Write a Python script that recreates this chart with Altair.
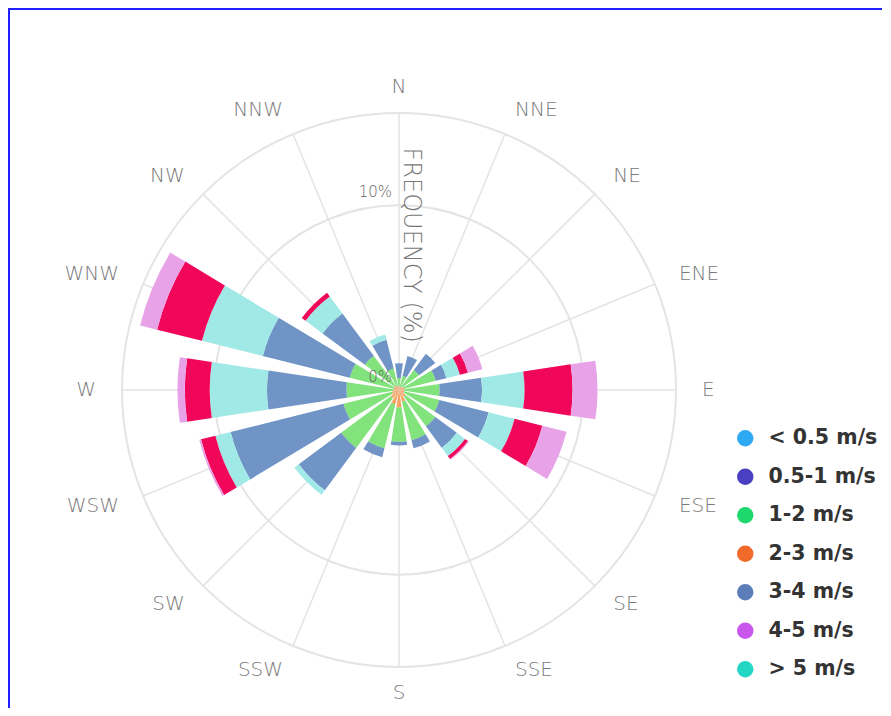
import altair as alt
import pandas as pd

directions = ["N", "NNE", "NE", "ENE", "E", "ESE", "SE", "SSE",
              "S", "SSW", "SW", "WSW", "W", "WNW", "NW", "NNW"]
angles = [0, 22.5, 45, 67.5, 90, 112.5, 135, 157.5,
          180, 202.5, 225, 247.5, 270, 292.5, 315, 337.5]
label_align = ["center", "left", "left", "left", "left", "left", "left", "left",
               "center", "right", "right", "right", "right", "right", "right", "right"]

# frequency (%) of each band per direction, stacked from the centre outwards
band_2_3 = [0.2, 0.2, 0.2, 0.3, 0.3, 0.3, 0.45, 0.65, 0.95, 0.8, 0.55, 0.4, 0.3, 0.3, 0.3, 0.2]
band_1_2 = [0.45, 0.6, 1.15, 1.75, 1.9, 1.95, 2.0, 2.15, 1.85, 2.45, 3.35, 2.7, 2.55, 2.45, 2.0, 1.0]
band_3_4 = [0.8, 1.1, 1.1, 0.6, 2.3, 2.75, 1.45, 0.45, 0.2, 0.5, 2.85, 6.3, 4.3, 4.85, 2.85, 1.6]
band_gt5 = [0, 0, 0, 0.75, 2.3, 1.45, 0.55, 0, 0, 0, 0.3, 0.85, 3.1, 3.4, 1.15, 0.3]
band_extra = [0, 0, 0, 0.45, 2.6, 1.55, 0.2, 0, 0, 0, 0, 0.8, 1.35, 2.5, 0.25, 0]
band_4_5 = [0, 0, 0, 0.8, 1.35, 1.35, 0.05, 0, 0, 0, 0, 0.1, 0.4, 0.95, 0, 0]

stack_series = ["2-3 m/s", "1-2 m/s", "3-4 m/s", "> 5 m/s", "(unlabelled)", "4-5 m/s"]
stack_values = [band_2_3, band_1_2, band_3_4, band_gt5, band_extra, band_4_5]
bar_colors = ["#F6A262", "#82E27C", "#7194C6", "#A0E9E6", "#F0075A", "#E8A3E8"]

legend_labels = ["< 0.5 m/s", "0.5-1 m/s", "1-2 m/s", "2-3 m/s", "3-4 m/s", "4-5 m/s", "> 5 m/s"]
legend_colors = ["#2EA9F3", "#4A3FC0", "#1ED86E", "#F26A2A", "#5B7DBA", "#C957EE", "#24D6C4"]

grid_rings = [10, 15]
radial_ticks = ["0%", "10%"]
radial_tick_values = [0, 10]
axis_title = "FREQUENCY (%)"

rows = []
for k, (name, vals) in enumerate(zip(stack_series, stack_values)):
    for d, a, v in zip(directions, angles, vals):
        rows.append({"dir": d, "angle": a, "series": name, "order": k, "value": v})
bars_df = pd.DataFrame(rows)

theta_scale = alt.Scale(domain=[0, 360], range=[0, 6.283185307179586])
r_scale = alt.Scale(type="linear", domain=[0, 15], range=[0, 277], zero=True)

FONT = "DejaVu Sans"
FRAME = "#1f1fff"
one = pd.DataFrame({"k": [0]})

frame_top = alt.Chart(one).mark_rule(color=FRAME, strokeWidth=2).encode(
    x=alt.value(0), x2=alt.value(874), y=alt.value(-81)
)
frame_left = alt.Chart(one).mark_rule(color=FRAME, strokeWidth=2).encode(
    x=alt.value(1), y=alt.value(-82), y2=alt.value(700)
)

rings = alt.Chart(pd.DataFrame({"ring": grid_rings})).mark_arc(
    fillOpacity=0, stroke="#e4e4e4", strokeWidth=2
).encode(
    radius=alt.Radius("ring:Q", scale=r_scale, stack=None),
    radius2=alt.value(0),
)

spokes = alt.Chart(pd.DataFrame({"angle": angles, "rmax": [15] * len(angles)})).mark_arc(
    fillOpacity=0, stroke="#e4e4e4", strokeWidth=1.5
).encode(
    theta=alt.Theta("angle:Q", scale=theta_scale, stack=None),
    theta2="angle:Q",
    radius=alt.Radius("rmax:Q", scale=r_scale, stack=None),
    radius2=alt.value(0),
)

bars = alt.Chart(bars_df).transform_filter("datum.value > 0").transform_window(
    r1="sum(value)", groupby=["dir"], sort=[alt.SortField("order")]
).transform_calculate(
    r0="datum.r1 - datum.value",
    t0="datum.angle - 8.5",
    t1="datum.angle + 8.5",
).mark_arc(strokeWidth=0).encode(
    theta=alt.Theta("t0:Q", scale=theta_scale, stack=None),
    theta2="t1:Q",
    radius=alt.Radius("r1:Q", scale=r_scale, stack=None),
    radius2="r0:Q",
    color=alt.Color("series:N", scale=alt.Scale(domain=stack_series, range=bar_colors), legend=None),
)

legend_layer = alt.Chart(pd.DataFrame({"label": legend_labels, "zero": [0] * 7})).mark_arc().encode(
    radius=alt.Radius("zero:Q", scale=r_scale, stack=None),
    color=alt.Color(
        "label:N",
        scale=alt.Scale(domain=legend_labels, range=legend_colors),
        sort=legend_labels,
        legend=alt.Legend(
            title=None, orient="none", legendX=727, legendY=338,
            symbolType="circle", symbolSize=270, symbolStrokeWidth=0, symbolOpacity=1,
            labelFont=FONT, labelFontSize=20.5, labelFontWeight="bold", labelColor="#333333",
            labelOffset=13, rowPadding=17.5, padding=0, labelLimit=300,
        ),
    ),
)

dir_df = pd.DataFrame({"dir": directions, "angle": angles, "align": label_align})
dir_label_layers = []
for al in ["center", "left", "right"]:
    dir_label_layers.append(
        alt.Chart(dir_df).transform_filter(alt.datum.align == al).mark_text(
            font=FONT, fontSize=20, fontWeight=300, color="#7a7a7a", align=al, baseline="middle"
        ).encode(
            theta=alt.Theta("angle:Q", scale=theta_scale, stack=None),
            radius=alt.value(303),
            text="dir:N",
        )
    )

tick_labels = alt.Chart(pd.DataFrame({"lab": radial_ticks, "v": radial_tick_values})).mark_text(
    font=FONT, fontSize=15, fontWeight=300, color="#666666", align="right", baseline="middle", dx=-7, dy=-13
).encode(
    theta=alt.value(0),
    radius=alt.Radius("v:Q", scale=r_scale, stack=None),
    text="lab:N",
)

title_text = alt.Chart(pd.DataFrame({"t": [axis_title], "v": [7.84]})).mark_text(
    font=FONT, fontSize=24, fontWeight=300, color="#777777", align="center", baseline="middle",
    angle=90, dy=-12
).encode(
    theta=alt.value(0),
    radius=alt.Radius("v:Q", scale=r_scale, stack=None),
    text="t:N",
)

chart = alt.layer(
    frame_top, frame_left, rings, spokes, bars, legend_layer, *dir_label_layers, tick_labels, title_text
).resolve_scale(color="independent").properties(
    width=782, height=600,
    autosize=alt.AutoSizeParams(type="none"),
    padding={"left": 0, "top": 82, "right": 93, "bottom": 18},
    background="white",
).configure_view(stroke=None)

chart.save("out.html", embed_options={"renderer": "svg", "actions": False})
